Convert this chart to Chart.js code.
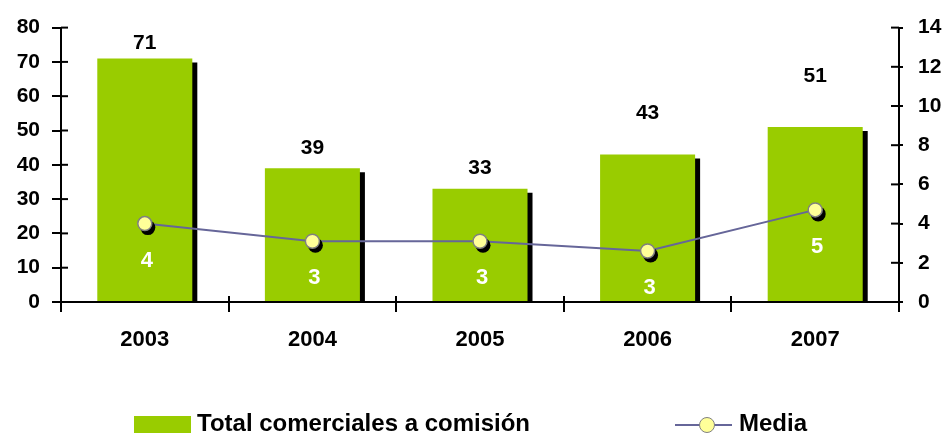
<!DOCTYPE html>
<html>
<head>
<meta charset="utf-8">
<script src="https://cdn.jsdelivr.net/npm/chart.js@4/dist/chart.umd.min.js"></script>
<style>
  body { margin: 0; background: #fff; }
  #wrap { position: relative; width: 947px; height: 433px; overflow: hidden; }
  #legend { position: absolute; left: 0; top: 0; width: 947px; height: 433px; pointer-events: none;
    font: bold 24px "Liberation Sans", Arial, sans-serif; color: #000; line-height: 24px; }
  .txt { position: absolute; top: 411px; white-space: nowrap; }
  .box { position: absolute; left: 134px; top: 416px; width: 57px; height: 17px; background: #99cc00; }
  .ln { position: absolute; left: 675px; top: 424px; width: 57px; height: 2px; background: #666699; }
  .mk { position: absolute; left: 699px; top: 417px; width: 14px; height: 14px; border-radius: 50%;
    background: #ffff99; border: 1.5px solid #808080; }
</style>
</head>
<body>
<div id="wrap">
  <canvas id="chart" width="947" height="433"></canvas>
  <div id="legend">
    <div class="box"></div>
    <div class="txt" style="left:197px">Total comerciales a comisión</div>
    <div class="ln"></div><div class="mk"></div>
    <div class="txt" style="left:739px">Media</div>
  </div>
</div>
<script>
const years = ['2003', '2004', '2005', '2006', '2007'];
const totalComerciales = [71, 39, 33, 43, 51];
const media = [4.0, 3.1, 3.1, 2.6, 4.7];
const leftTicks = [0, 80, 10];
const rightTicks = [0, 14, 2];

const barLabelGap = [15, 20, 21, 41, 51];

const FAMILY = '"Liberation Sans", Arial, sans-serif';
const Y_FONT = { family: FAMILY, size: 21, weight: 'bold' };
const X_FONT = { family: FAMILY, size: 22, weight: 'bold' };

// black drop shadow for the bars, solid black disc behind the markers
const shadowPlugin = {
    id: 'shadow',
    beforeDatasetDraw(chart, args) {
        const ds = chart.data.datasets[args.index];
        const ctx = chart.ctx;
        if (ds.markerShadow) {
            ctx.save();
            ctx.fillStyle = '#000';
            args.meta.data.forEach(p => {
                ctx.beginPath();
                ctx.arc(p.x + ds.markerShadow[0], p.y + ds.markerShadow[1], ds.pointRadius + 0.5, 0, Math.PI * 2);
                ctx.fill();
            });
            ctx.restore();
        }
        if (!ds.shadow) return;
        ctx.save();
        ctx.shadowColor = '#000';
        ctx.shadowBlur = 0;
        ctx.shadowOffsetX = ds.shadow[0];
        ctx.shadowOffsetY = ds.shadow[1];
    },
    afterDatasetDraw(chart, args) {
        const ds = chart.data.datasets[args.index];
        if (ds.shadow) chart.ctx.restore();
    }
};

// ticks crossing the axes on the inside too
const innerTicks = {
    id: 'innerTicks',
    afterDraw(chart) {
        const ctx = chart.ctx;
        ctx.save();
        ctx.strokeStyle = '#000';
        ctx.lineWidth = 2;
        const y = chart.scales.y, y1 = chart.scales.y1;
        y.ticks.forEach((t, i) => {
            const py = y.getPixelForTick(i);
            ctx.beginPath(); ctx.moveTo(y.right, py); ctx.lineTo(y.right + 7, py); ctx.stroke();
        });
        y1.ticks.forEach((t, i) => {
            const py = y1.getPixelForTick(i);
            ctx.beginPath(); ctx.moveTo(y1.left, py); ctx.lineTo(y1.left - 8, py); ctx.stroke();
        });
        const area = chart.chartArea;
        const step = (area.right - area.left) / years.length;
        for (let i = 1; i < years.length; i++) {
            const px = Math.round(area.left + step * i);
            ctx.beginPath(); ctx.moveTo(px, area.bottom); ctx.lineTo(px, area.bottom - 6); ctx.stroke();
        }
        ctx.restore();
    }
};

const valueLabels = {
    id: 'valueLabels',
    afterDatasetsDraw(chart) {
        const ctx = chart.ctx;
        ctx.save();
        ctx.font = 'bold 21px ' + FAMILY;
        ctx.textAlign = 'center';
        ctx.textBaseline = 'middle';
        const bars = chart.getDatasetMeta(2).data;
        bars.forEach((b, i) => {
            ctx.fillStyle = '#000';
            ctx.fillText(totalComerciales[i], b.x, b.y - barLabelGap[i]);
        });
        ctx.font = 'bold 22px ' + FAMILY;
        const pts = chart.getDatasetMeta(0).data;
        pts.forEach((p, i) => {
            ctx.fillStyle = '#fff';
            ctx.fillText(Math.round(media[i]), p.x + 2, p.y + 37);
        });
        ctx.restore();
    }
};

new Chart(document.getElementById('chart'), {
    type: 'bar',
    data: {
        labels: years,
        datasets: [
            {
                type: 'line',
                label: 'Media',
                data: media,
                yAxisID: 'y1',
                showLine: false,
                pointRadius: 7,
                pointBackgroundColor: '#ffff99',
                pointBorderColor: '#808080',
                pointBorderWidth: 1.5,
                markerShadow: [3, 4],
                order: 0
            },
            {
                type: 'line',
                label: 'Media línea',
                data: media,
                yAxisID: 'y1',
                borderColor: '#666699',
                borderWidth: 2,
                pointRadius: 0,
                tension: 0,
                order: 1
            },
            {
                label: 'Total comerciales a comisión',
                data: totalComerciales,
                yAxisID: 'y',
                backgroundColor: '#99cc00',
                categoryPercentage: 1,
                barPercentage: 0.567,
                shadow: [5, 4],
                order: 2
            }
        ]
    },
    options: {
        responsive: false,
        animation: false,
        layout: { padding: { top: 27, left: 0, right: 0, bottom: 0 } },
        plugins: { legend: { display: false }, tooltip: { enabled: false } },
        scales: {
            x: {
                afterFit(s) { s.height = 131; },
                grid: { offset: true, drawOnChartArea: false, color: '#000', lineWidth: 2, tickLength: 10 },
                border: { color: '#000', width: 2 },
                ticks: { color: '#000', font: X_FONT, padding: 15 }
            },
            y: {
                position: 'left',
                min: leftTicks[0], max: leftTicks[1],
                afterFit(s) { s.width = 61; },
                grid: { drawOnChartArea: false, color: '#000', lineWidth: 2, tickLength: 9 },
                border: { color: '#000', width: 2 },
                ticks: { stepSize: leftTicks[2], color: '#000', font: Y_FONT, padding: 12 }
            },
            y1: {
                position: 'right',
                min: rightTicks[0], max: rightTicks[1],
                afterFit(s) { s.width = 48; },
                grid: { drawOnChartArea: false, color: '#000', lineWidth: 2, tickLength: 4 },
                border: { color: '#000', width: 2 },
                ticks: { stepSize: rightTicks[2], color: '#000', font: Y_FONT, padding: 15 }
            }
        }
    },
    plugins: [shadowPlugin, innerTicks, valueLabels]
});
</script>
</body>
</html>
